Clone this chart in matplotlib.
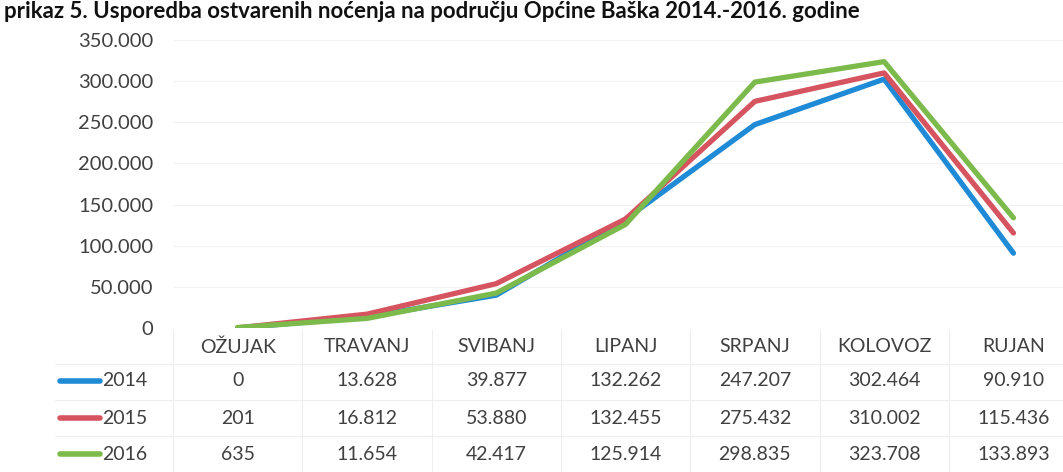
import matplotlib
matplotlib.use('Agg')
import matplotlib.pyplot as plt
import matplotlib.transforms as mtransforms
import numpy as np

plt.rcParams['font.family'] = ['Lato', 'DejaVu Sans']

# data
months = ['OŽUJAK', 'TRAVANJ', 'SVIBANJ', 'LIPANJ', 'SRPANJ', 'KOLOVOZ', 'RUJAN']
years = ['2014', '2015', '2016']
v2014 = [0, 13628, 39877, 132262, 247207, 302464, 90910]
v2015 = [201, 16812, 53880, 132455, 275432, 310002, 115436]
v2016 = [635, 11654, 42417, 125914, 298835, 323708, 133893]
yticks = [0, 50000, 100000, 150000, 200000, 250000, 300000, 350000]
colors = ['#1f8ad6', '#d6545f', '#7cba4c']
series = [v2014, v2015, v2016]
title = 'prikaz 5. Usporedba ostvarenih noćenja na području Općine Baška 2014.-2016. godine'

def fmt(v):
    return '{:,}'.format(v).replace(',', '.')

fig = plt.figure(figsize=(10.63, 4.72), dpi=100)
ax = fig.add_axes([173/1063, 1-328/472, 7*129.3/1063, (328-40)/472])

x = np.arange(len(months))
for s, c in zip(series, colors):
    ax.plot(x, s, color=c, lw=3.8, solid_capstyle='round', solid_joinstyle='round')

ax.set_xlim(-0.5, len(months)-0.5)
ax.set_ylim(0, 350000)
ax.set_yticks(yticks)
ax.set_yticklabels([fmt(v) for v in yticks], fontsize=14.5, color='#404040')
ax.tick_params(axis='y', length=0, pad=14)
ax.set_xticks([])
for sp in ax.spines.values():
    sp.set_visible(False)
for v in yticks[1:]:
    ax.axhline(v, color='#f2f2f2', lw=0.8, zorder=0)

# data table below the axes
tr = mtransforms.blended_transform_factory(ax.transData, fig.transFigure)
row_y = [1-347/472, 1-381/472, 1-418/472, 1-454/472]
for i, m in enumerate(months):
    fig.text(i, row_y[0], m, transform=tr, ha='center', va='center', fontsize=14, color='#404040')
    for r, s in enumerate(series):
        fig.text(i, row_y[r+1], fmt(s[i]), transform=tr, ha='center', va='center', fontsize=14, color='#404040')
for i in range(len(months)):
    fig.add_artist(plt.Line2D([i-0.5, i-0.5], [0, 1-330/472], transform=tr, color='#eeeeee', lw=0.8))
for yy in [1-364/472, 1-400/472, 1-436/472]:
    fig.add_artist(plt.Line2D([55/1063, 1], [yy, yy], transform=fig.transFigure, color='#eeeeee', lw=0.8))
for r, (yr, c) in enumerate(zip(years, colors)):
    yy = row_y[r+1]
    fig.add_artist(plt.Line2D([60/1063, 100/1063], [yy, yy], transform=fig.transFigure,
                              color=c, lw=4, solid_capstyle='round'))
    fig.text(102/1063, yy, yr, ha='left', va='center', fontsize=14, color='#404040')

# title along the top edge
fig.text(0.004, 0.998, title, ha='left', va='top', fontsize=16, fontweight='bold', color='#111111')

fig.savefig('out.png', dpi=100)
